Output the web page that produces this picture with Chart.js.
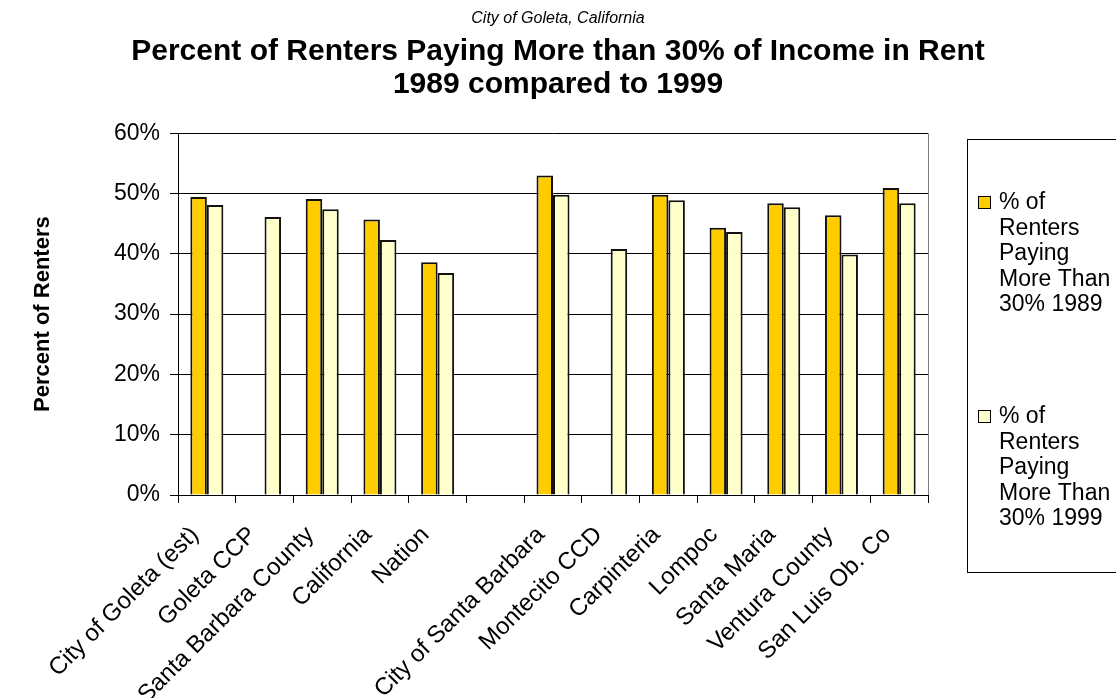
<!DOCTYPE html>
<html>
<head>
<meta charset="utf-8">
<title>Renters Paying More than 30% of Income in Rent</title>
<script src="https://cdn.jsdelivr.net/npm/chart.js@4/dist/chart.umd.min.js"></script>
<style>
  html, body { margin: 0; padding: 0; background: #fff; }
  #wrap { width: 1116px; height: 698px; }
</style>
</head>
<body>
<div id="wrap"><canvas id="rentChart" width="1116" height="698"></canvas></div>
<script>
// Places compared (the empty slot separates the regional group from the cities)
const places = [
  'City of Goleta (est)', 'Goleta CCP', 'Santa Barbara County', 'California', 'Nation', '',
  'City of Santa Barbara', 'Montecito CCD', 'Carpinteria', 'Lompoc', 'Santa Maria',
  'Ventura County', 'San Luis Ob. Co'
];

// Percent of renters paying more than 30% of income in rent
const rent1989 = [49.4, null, 49.1, 45.7, 38.6, null, 53.0, null, 49.8, 44.3, 48.4, 46.4, 50.9];
const rent1999 = [48.1, 46.1, 47.4, 42.3, 36.8, null, 49.8, 40.8, 48.9, 43.6, 47.7, 39.9, 48.4];

const seriesNames = [
  '% of Renters Paying More Than 30% 1989',
  '% of Renters Paying More Than 30% 1999'
];

const yTicks = [0, 10, 20, 30, 40, 50, 60];

const FONT = '"Liberation Sans", Arial, Helvetica, sans-serif';
Chart.defaults.font.family = FONT;
Chart.defaults.color = '#000';

// split a legend label into lines that fit the legend box
function wrapText(ctx, text, maxWidth) {
  const words = text.split(' ');
  const lines = [];
  let line = '';
  words.forEach(w => {
    const test = line ? line + ' ' + w : w;
    if (line && ctx.measureText(test).width > maxWidth) {
      lines.push(line);
      line = w;
    } else {
      line = test;
    }
  });
  if (line) lines.push(line);
  return lines;
}

// boxed legend on the right, one tall entry per series
const sideLegend = {
  id: 'sideLegend',
  afterDraw(chart) {
    const { ctx, chartArea } = chart;
    const x = Math.round(chartArea.right) + 39;
    const y = Math.round(chartArea.top) + 6;
    ctx.save();
    ctx.strokeStyle = '#000';
    ctx.lineWidth = 1;
    ctx.strokeRect(x + 0.5, y + 0.5, 200, 433);
    ctx.font = '23px ' + FONT;
    ctx.textBaseline = 'middle';
    chart.data.datasets.forEach((ds, i) => {
      const top = y + 57 + i * 214;
      ctx.fillStyle = ds.backgroundColor;
      ctx.fillRect(x + 11, top, 13, 13);
      ctx.strokeStyle = '#000';
      ctx.strokeRect(x + 11.5, top + 0.5, 12, 12);
      ctx.fillStyle = '#000';
      wrapText(ctx, ds.label, 118).forEach((line, j) => {
        ctx.fillText(line, x + 32, top + 7 + j * 25.4);
      });
    });
    ctx.restore();
  }
};

// grey right edge of the plot frame
const plotFrame = {
  id: 'plotFrame',
  beforeDatasetsDraw(chart) {
    const { ctx, chartArea } = chart;
    ctx.save();
    ctx.strokeStyle = '#808080';
    ctx.lineWidth = 1;
    ctx.beginPath();
    ctx.moveTo(Math.round(chartArea.right) + 0.5, chartArea.top);
    ctx.lineTo(Math.round(chartArea.right) + 0.5, chartArea.bottom);
    ctx.stroke();
    ctx.restore();
  }
};

const ctx = document.getElementById('rentChart').getContext('2d');
new Chart(ctx, {
  type: 'bar',
  data: {
    labels: places,
    datasets: [
      {
        label: seriesNames[0],
        data: rent1989,
        backgroundColor: '#FFCC00',
        borderColor: '#111',
        borderWidth: 2
      },
      {
        label: seriesNames[1],
        data: rent1999,
        backgroundColor: '#FFFFCC',
        borderColor: '#111',
        borderWidth: 2
      }
    ]
  },
  options: {
    responsive: false,
    animation: false,
    categoryPercentage: 0.572,
    barPercentage: 1.0,
    layout: { padding: 0 },
    plugins: {
      legend: { display: false },
      tooltip: { enabled: false },
      title: {
        display: true,
        text: 'City of Goleta, California',
        font: { size: 16, style: 'italic', weight: 'normal' },
        padding: { top: 9, bottom: 0 }
      },
      subtitle: {
        display: true,
        text: ['Percent of Renters Paying More than 30% of Income in Rent', '1989 compared to 1999'],
        color: '#000',
        font: { size: 30, weight: 'bold', lineHeight: 1.1 },
        padding: { top: 7, bottom: 32 }
      }
    },
    scales: {
      x: {
        grid: {
          display: true,
          drawOnChartArea: false,
          drawTicks: true,
          tickLength: 8,
          color: '#000'
        },
        border: { color: '#000', width: 1 },
        ticks: {
          autoSkip: false,
          minRotation: 45,
          maxRotation: 45,
          padding: 18,
          labelOffset: -12,
          font: { size: 24 }
        },
        afterFit(scale) { scale.height = 203; }
      },
      y: {
        min: 0,
        max: 60,
        afterBuildTicks(scale) { scale.ticks = yTicks.map(v => ({ value: v })); },
        grid: { color: '#000', tickLength: 8 },
        border: { color: '#000', width: 1 },
        ticks: {
          padding: 10,
          font: { size: 23 },
          callback: v => v + '%'
        },
        title: {
          display: true,
          text: 'Percent of Renters',
          font: { size: 22, weight: 'bold' },
          padding: { top: 30, bottom: 0 }
        },
        afterFit(scale) { scale.width = 178; }
      },
      // empty right-hand axis that keeps room for the legend box
      legendSpace: {
        type: 'linear',
        position: 'right',
        display: true,
        grid: { display: false },
        border: { display: false },
        ticks: { display: false },
        afterFit(scale) { scale.width = 188; }
      }
    }
  },
  plugins: [plotFrame, sideLegend]
});
</script>
</body>
</html>
